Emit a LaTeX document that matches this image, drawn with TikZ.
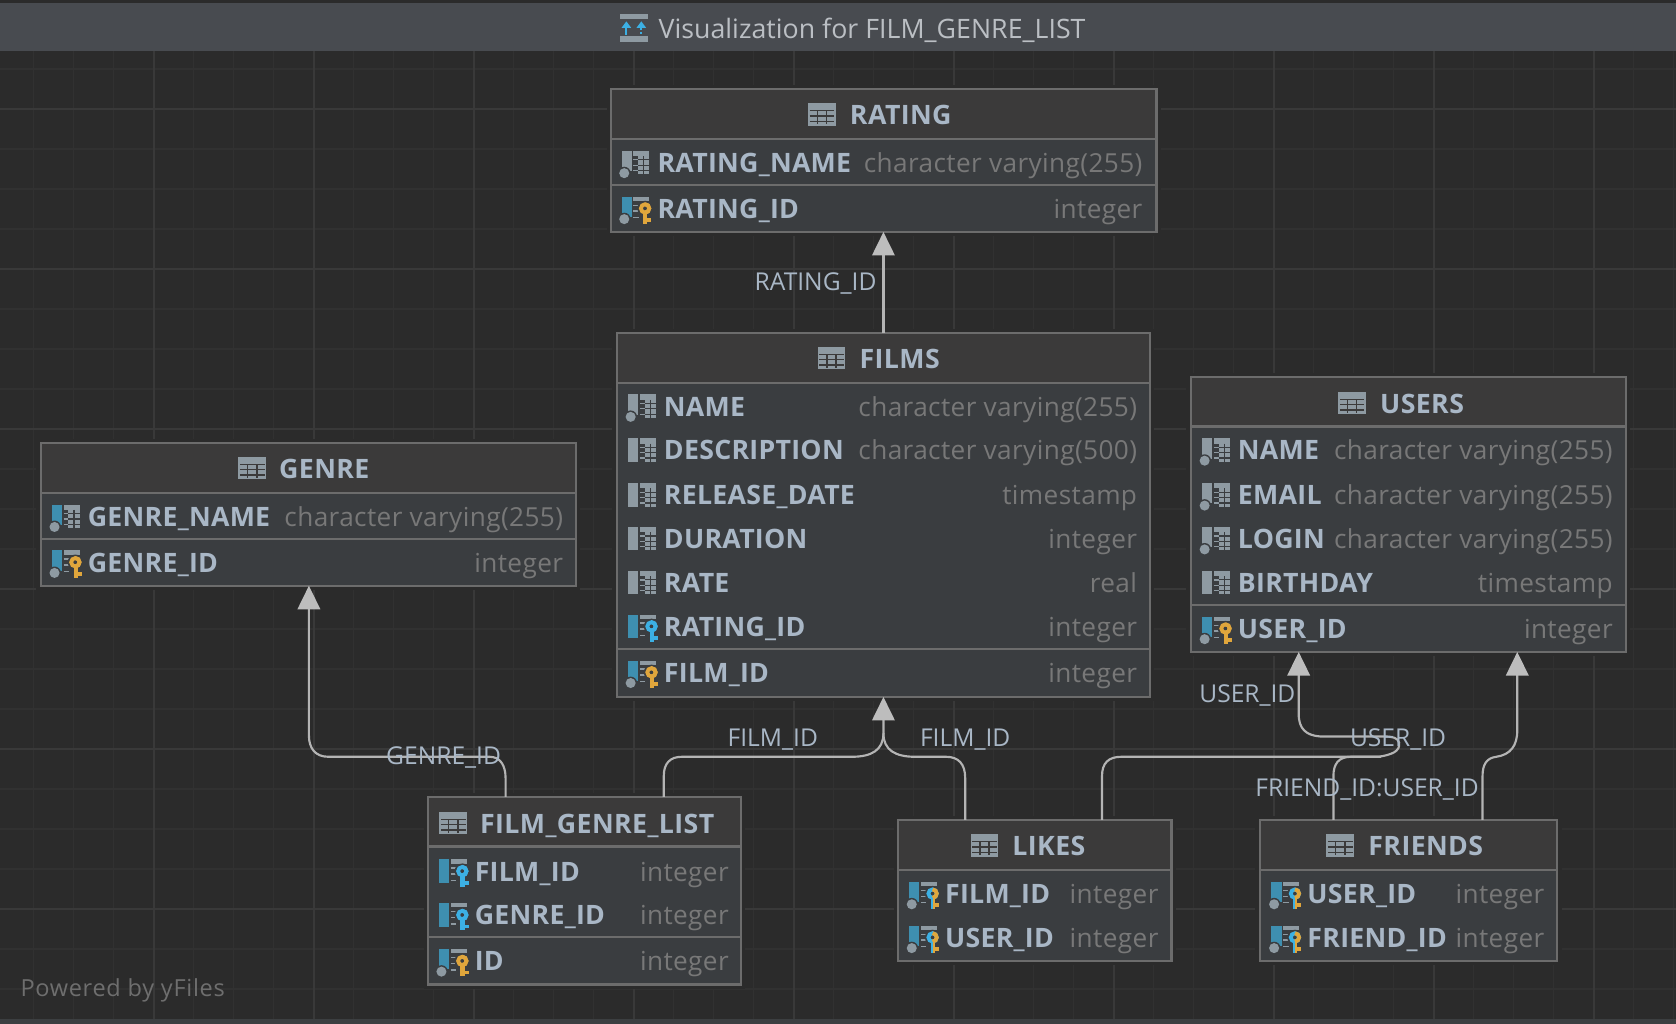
\documentclass[tikz,border=0pt]{standalone}
\usepackage{fontspec}
\usetikzlibrary{arrows.meta,calc}
\setmainfont{Open Sans}
\newfontfamily\namefont[LetterSpace=1]{Open Sans Bold}
\newfontfamily\headfont[LetterSpace=1.5]{Open Sans Bold}
\newfontfamily\typefont[LetterSpace=1.5]{Open Sans}
\newfontfamily\labelfont{Open Sans}
\newfontfamily\barfont[LetterSpace=0.1]{Open Sans}
\newfontfamily\powerfont[LetterSpace=3]{Open Sans}
\definecolor{bgc}{HTML}{2B2B2B}
\definecolor{gridminor}{HTML}{313131}
\definecolor{gridmajor}{HTML}{393939}
\definecolor{barc}{HTML}{484B50}
\definecolor{topc}{HTML}{3C3F41}
\definecolor{rowc}{HTML}{3A3D40}
\definecolor{headc}{HTML}{3B3A3A}
\definecolor{borderc}{HTML}{6C6C6C}
\definecolor{namec}{HTML}{A9B7C6}
\definecolor{typec}{HTML}{787878}
\definecolor{edgec}{HTML}{B4B4B4}
\definecolor{tipc}{HTML}{BDBDBD}
\definecolor{titlec}{HTML}{BBBFC4}
\definecolor{greyic}{HTML}{8E9AA2}
\definecolor{blueic}{HTML}{3E8FB0}
\definecolor{keyy}{HTML}{E0A63C}
\definecolor{keyb}{HTML}{3CB0E4}
\definecolor{poweredc}{HTML}{6E6E6E}
\tikzset{
  tablebox/.style={draw=borderc,line width=2pt,fill=rowc,rectangle,inner sep=0pt,outer sep=0pt},
  sepline/.style={draw=borderc,line width=2pt},
  titletext/.style={anchor=base west,text=namec,inner sep=0pt,font=\headfont\fontsize{25}{28}\selectfont},
  nametext/.style={anchor=base west,text=namec,inner sep=0pt,font=\namefont\fontsize{25}{27}\selectfont},
  typetext/.style={anchor=base east,text=typec,inner sep=0pt,font=\typefont\fontsize{24.5}{27}\selectfont},
  edgelabel/.style={text=namec,inner sep=0pt,font=\labelfont\fontsize{23}{26}\selectfont},
  conn/.style={draw=edgec,line width=2pt,rounded corners=0pt},
  connarrow/.style={conn,-{Triangle[length=22pt,width=21pt,fill=tipc,color=tipc]}}
}
% table frame: id x1 y1 x2 y2 headerbottom
\newcommand{\tableframe}[6]{%
  \fill[bgc] (#2-4,#3-4) rectangle (#4+4,#5+4);
  \node[tablebox,minimum width={(#4-#2)*1pt},minimum height={(#5-#3)*1pt}] (#1) at ({(#2+#4)/2},{(#3+#5)/2}) {};
  \fill[headc] (#2+1,#3+1) rectangle (#4-1,#6);
  \draw[sepline] (#2+1,#6) -- (#4-1,#6);
}
\newcommand{\tableicon}[2]{%
  \begin{scope}[shift={(#1,#2)}]
    \fill[greyic] (0,-10.5) rectangle (26,10.5);
    \draw[headc,line width=1.3pt] (1.5,-3.5) -- (24.5,-3.5) (1.5,1.5) -- (24.5,1.5) (1.5,6.5) -- (24.5,6.5)
      (8.7,-3.5) -- (8.7,9) (17.3,-3.5) -- (17.3,9);
  \end{scope}
}
% header: id iconx centery titlex text
\newcommand{\tablehead}[5]{%
  \tableicon{#2}{#3}
  \node[titletext] (#1-head) at (#4-1,#3+9.5) {#5};
}
% key drawing
\newcommand{\keyshape}[3]{% ring-left, ring-right, teeth colour
  \fill[rowc] (-12.5,0) circle (7.2);
  \draw[#1,line width=3.6pt] (-12.5,0) circle (3.9);
  \draw[#2,line width=3.6pt] (-12.5,-3.9) arc[start angle=90,end angle=-90,x radius=3.9,y radius=-3.9];
  \fill[#1] (-14.2,4.5) rectangle (-12.2,14.5);
  \fill[#2] (-12.2,4.5) rectangle (-10.4,14.5);
  \fill[#3] (-10.4,9.2) rectangle (-6.5,12.5);
}
% column icon: x y barcolour circle(0/1) kind(0 plain,1 pk,2 fk,3 both)
\newcommand{\colicon}[5]{%
  \begin{scope}[shift={(#1,#2)}]
    \ifnum#4=1
      \fill[#3] (-34.5,-11) rectangle (-25,5);
      \fill[#3] (-29,5) rectangle (-25,8);
      \fill[rowc] (-32,10) circle (6);
      \fill[greyic] (-32,10) circle (4.7);
    \else
      \fill[#3] (-34.5,-11) rectangle (-25,11);
    \fi
    \ifnum#5=0
      \fill[greyic] (-23.4,-11) rectangle (-8.5,11);
      \fill[rowc] (-23.4,-6) rectangle (-19,11);
      \draw[greyic,line width=1.2pt] (-23.4,-2.5) -- (-19,-2.5) (-23.4,2.5) -- (-19,2.5) (-23.4,7.5) -- (-19,7.5);
      \draw[rowc,line width=1.1pt] (-19,-2.5) -- (-8.5,-2.5) (-19,2.5) -- (-8.5,2.5) (-19,7.5) -- (-8.5,7.5) (-13.7,-6) -- (-13.7,11);
    \else
      \fill[greyic] (-23.4,-11) rectangle (-8.5,-7);
      \draw[greyic,line width=1.3pt] (-23.4,-3) -- (-18.5,-3) (-23.4,2.5) -- (-18.5,2.5) (-23.4,8.5) -- (-18.5,8.5);
      \ifnum#5=1 \keyshape{keyy}{keyy}{keyy}\fi
      \ifnum#5=2 \keyshape{keyb}{keyb}{keyb}\fi
      \ifnum#5=3 \keyshape{keyb}{keyy}{keyy}\fi
    \fi
  \end{scope}
}
% row: id namex typex y name type barcolour circle kind
\newcommand{\colrow}[9]{%
  \colicon{#2}{#4}{#7}{#8}{#9}
  \node[nametext] (#1-n) at (#2-1,#4+9.3) {#5};
  \node[typetext] (#1-t) at (#3+1,#4+9.3) {#6};
}
\begin{document}
\begin{tikzpicture}[x=1pt,y=-1pt]
\useasboundingbox (0,0) rectangle (1568,958);
\fill[bgc] (0,0) rectangle (1568,958);
% grid
\foreach \i in {-3,...,38} {
  \draw[gridminor,line width=1pt] ({144+\i*37.42},48) -- ({144+\i*37.42},953);
}
\foreach \i in {-1,...,24} {
  \draw[gridminor,line width=1pt] (0,{102+\i*37.42}) -- (1568,{102+\i*37.42});
}
\foreach \i in {0,...,9} {
  \draw[gridmajor,line width=1.4pt] ({144+\i*149.7},48) -- ({144+\i*149.7},953);
}
\foreach \i in {0,...,5} {
  \draw[gridmajor,line width=1.4pt] (0,{102+\i*149.7}) -- (1568,{102+\i*149.7});
}
\fill[topc] (0,953) rectangle (1568,958);
% title bar
\fill[barc] (0,3) rectangle (1568,48);
\fill[greyic] (580,13) rectangle (606,18);
\fill[greyic] (580,34) rectangle (606,39);
\fill[keyb] (586,20) -- (590.5,26) -- (581.5,26) -- cycle;
\fill[keyb] (585,26) rectangle (587,33);
\fill[keyb] (600,20) -- (604.5,26) -- (595.5,26) -- cycle;
\draw[keyb,line width=2pt,dash pattern=on 2pt off 2pt] (600,26) -- (600,33);
\node[inner sep=0pt,anchor=base west,text=titlec,font=\barfont\fontsize{25}{28}\selectfont] (titletxt) at (616,36) {Visualization for FILM\_GENRE\_LIST};
% tables
\tableframe{rating}{571.5}{83.5}{1082}{217}{130}
\draw[sepline] (572.5,173) -- (1081,173);
\tablehead{rating}{756}{107}{796}{RATING}
\colrow{r1}{616}{1068}{152}{RATING\_NAME}{character varying(255)}{greyic}{1}{0}
\colrow{r2}{616}{1068}{195}{RATING\_ID}{integer}{blueic}{1}{1}

\tableframe{films}{577}{311.5}{1076}{652}{358}
\draw[sepline] (578,607) -- (1075,607);
\tablehead{films}{765}{335}{805}{FILMS}
\colrow{f1}{622}{1063}{380}{NAME}{character varying(255)}{greyic}{1}{0}
\colrow{f2}{622}{1063}{421}{DESCRIPTION}{character varying(500)}{greyic}{0}{0}
\colrow{f3}{622}{1063}{463}{RELEASE\_DATE}{timestamp}{greyic}{0}{0}
\colrow{f4}{622}{1063}{504}{DURATION}{integer}{greyic}{0}{0}
\colrow{f5}{622}{1063}{545}{RATE}{real}{greyic}{0}{0}
\colrow{f6}{622}{1063}{586}{RATING\_ID}{integer}{blueic}{0}{2}
\colrow{f7}{622}{1063}{629}{FILM\_ID}{integer}{blueic}{1}{1}

\tableframe{users}{1114}{352.5}{1521}{610}{399}
\draw[sepline] (1115,566) -- (1520,566);
\tablehead{users}{1252}{377}{1292}{USERS}
\colrow{u1}{1159}{1508}{421}{NAME}{character varying(255)}{greyic}{1}{0}
\colrow{u2}{1159}{1508}{463}{EMAIL}{character varying(255)}{greyic}{1}{0}
\colrow{u3}{1159}{1508}{504}{LOGIN}{character varying(255)}{greyic}{1}{0}
\colrow{u4}{1159}{1508}{545}{BIRTHDAY}{timestamp}{greyic}{0}{0}
\colrow{u5}{1159}{1508}{588}{USER\_ID}{integer}{blueic}{1}{1}

\tableframe{genre}{38}{414.5}{539}{548}{461}
\draw[sepline] (39,504) -- (538,504);
\tablehead{genre}{223}{438}{262}{GENRE}
\colrow{g1}{83}{526}{483}{GENRE\_NAME}{character varying(255)}{blueic}{1}{0}
\colrow{g2}{83}{526}{526}{GENRE\_ID}{integer}{blueic}{1}{1}

\tableframe{flist}{400.5}{745.5}{693}{921}{792}
\draw[sepline] (401,877) -- (692,877);
\tablehead{flist}{411}{770}{450}{FILM\_GENRE\_LIST}
\colrow{l1}{445}{681}{815}{FILM\_ID}{integer}{blueic}{0}{2}
\colrow{l2}{445}{681}{856}{GENRE\_ID}{integer}{blueic}{0}{2}
\colrow{l3}{445}{681}{899}{ID}{integer}{blueic}{1}{1}

\tableframe{likes}{840}{767}{1096}{899}{814}
\tablehead{likes}{908}{791}{948}{LIKES}
\colrow{k1}{885}{1083}{836}{FILM\_ID}{integer}{blueic}{1}{3}
\colrow{k2}{885}{1083}{877}{USER\_ID}{integer}{blueic}{1}{3}

\tableframe{friends}{1178.5}{767}{1457}{899}{814}
\tablehead{friends}{1241}{791}{1281}{FRIENDS}
\colrow{e1}{1224}{1444}{836}{USER\_ID}{integer}{blueic}{1}{3}
\colrow{e2}{1224}{1444}{877}{FRIEND\_ID}{integer}{blueic}{1}{3}
% connectors
\draw[connarrow] (films.north -| 826.5,0) -- (rating.south -| 826.5,0);
\draw[connarrow] (flist.north -| 473,0) -- (473,728) .. controls (473,716) and (468,708) .. (458,708) -- (307,708)
  .. controls (295,708) and (289,700) .. (289,688) -- (genre.south -| 289,0);
\draw[connarrow] (flist.north -| 621,0) -- (621,726) .. controls (621,714) and (627,708) .. (638,708) -- (797,708)
  .. controls (815,708) and (826.5,702) .. (826.5,686) -- (films.south -| 826.5,0);
\draw[conn] (likes.north -| 903,0) -- (903,728) .. controls (903,715) and (897,708) .. (885,708) -- (856,708)
  .. controls (838,708) and (826.5,702) .. (826.5,686);
\draw[connarrow] (likes.north -| 1031,0) -- (1031,726) .. controls (1031,714) and (1037,708) .. (1049,708) -- (1290,708)
  .. controls (1302,706) and (1310,703) .. (1309,695) .. controls (1308,690) and (1302,689) .. (1295,689) -- (1235,689)
  .. controls (1222,688) and (1215,682) .. (1215,668) -- (users.south -| 1215,0);
\draw[conn] (friends.north -| 1247.5,0) -- (1247.5,726) .. controls (1247.5,715) and (1252,708) .. (1264,708) -- (1292,708);
\draw[connarrow] (friends.north -| 1387,0) -- (1387,726) .. controls (1387,715) and (1391,709) .. (1400,708)
  .. controls (1413,706) and (1419.5,698) .. (1419.5,683) -- (users.south -| 1419.5,0);
% labels
\node[edgelabel] (lab1) at (763,265) {RATING\_ID};
\node[edgelabel] (lab2) at (415,709) {GENRE\_ID};
\node[edgelabel] (lab3) at (723,692) {FILM\_ID};
\node[edgelabel] (lab4) at (903,692) {FILM\_ID};
\node[edgelabel] (lab5) at (1167,651) {USER\_ID};
\node[edgelabel] (lab6) at (1308,692) {USER\_ID};
\node[edgelabel] (lab7) at (1279,739) {FRIEND\_ID:USER\_ID};
\node[inner sep=0pt,anchor=base west,text=poweredc,font=\powerfont\fontsize{22}{26}\selectfont] (powered) at (19,932) {Powered by yFiles};
\end{tikzpicture}
\end{document}
